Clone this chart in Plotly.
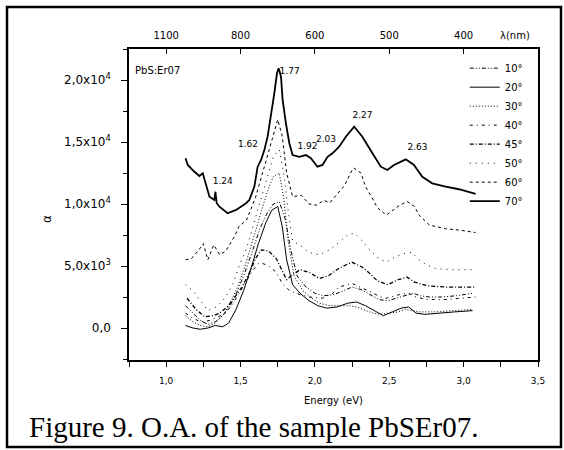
import plotly.graph_objects as go

# ---------------- data ----------------
energy_70 = [1.130, 1.145, 1.190, 1.223, 1.246, 1.291, 1.324, 1.331, 1.340, 1.358, 1.413, 1.470,
             1.537, 1.559, 1.593, 1.615, 1.638, 1.660, 1.682, 1.705, 1.727, 1.745, 1.756, 1.772,
             1.783, 1.805, 1.828, 1.850, 1.895, 1.940, 1.973, 2.017, 2.051, 2.085, 2.118, 2.163,
             2.208, 2.264, 2.319, 2.387, 2.443, 2.487, 2.532, 2.611, 2.666, 2.722, 2.789, 2.879,
             2.968, 3.081]
alpha_70 = [1.369, 1.315, 1.260, 1.226, 1.248, 1.059, 1.032, 1.099, 1.006, 0.978, 0.925, 0.952,
            1.006, 1.032, 1.140, 1.301, 1.355, 1.435, 1.543, 1.704, 1.893, 2.054, 2.094, 2.027,
            1.839, 1.651, 1.490, 1.395, 1.381, 1.395, 1.369, 1.301, 1.315, 1.381, 1.409, 1.462,
            1.543, 1.623, 1.543, 1.409, 1.301, 1.274, 1.315, 1.360, 1.315, 1.220, 1.167, 1.140,
            1.119, 1.081]

energy_60 = [1.13, 1.17, 1.22, 1.25, 1.28, 1.32, 1.36, 1.40, 1.46, 1.49, 1.54, 1.60, 1.66, 1.71,
             1.75, 1.78, 1.81, 1.85, 1.91, 1.96, 2.01, 2.06, 2.10, 2.15, 2.20, 2.24, 2.26, 2.31,
             2.34, 2.38, 2.42, 2.48, 2.57, 2.62, 2.67, 2.70, 2.77, 2.88, 2.97, 3.08]
alpha_60 = [0.55, 0.56, 0.63, 0.68, 0.55, 0.67, 0.59, 0.62, 0.74, 0.82, 0.87, 1.05, 1.30, 1.52,
            1.68, 1.55, 1.25, 1.06, 1.07, 1.00, 0.99, 1.03, 1.01, 1.08, 1.15, 1.25, 1.29, 1.25,
            1.14, 1.06, 0.97, 0.91, 0.99, 1.02, 0.98, 0.91, 0.83, 0.80, 0.79, 0.77]

energy_50 = [1.13, 1.18, 1.23, 1.28, 1.34, 1.40, 1.45, 1.49, 1.54, 1.58, 1.63, 1.68, 1.72, 1.76,
             1.79, 1.82, 1.85, 1.90, 1.96, 2.03, 2.10, 2.17, 2.23, 2.27, 2.32, 2.36, 2.42, 2.48,
             2.52, 2.59, 2.65, 2.70, 2.75, 2.81, 2.92, 3.08]
alpha_50 = [0.35, 0.30, 0.22, 0.14, 0.17, 0.25, 0.36, 0.50, 0.64, 0.80, 1.00, 1.22, 1.38, 1.44,
            1.25, 0.95, 0.70, 0.67, 0.61, 0.59, 0.63, 0.70, 0.76, 0.76, 0.70, 0.64, 0.57, 0.53,
            0.56, 0.60, 0.61, 0.55, 0.51, 0.48, 0.47, 0.47]

energy_45 = [1.14, 1.20, 1.26, 1.32, 1.36, 1.41, 1.45, 1.51, 1.57, 1.60, 1.64, 1.69, 1.74, 1.78,
             1.81, 1.85, 1.90, 1.96, 2.03, 2.09, 2.16, 2.21, 2.25, 2.32, 2.36, 2.42, 2.49, 2.56,
             2.62, 2.67, 2.76, 2.88, 3.08]
alpha_45 = [0.24, 0.15, 0.09, 0.10, 0.12, 0.17, 0.23, 0.33, 0.47, 0.56, 0.63, 0.62, 0.56, 0.47,
            0.39, 0.43, 0.47, 0.45, 0.40, 0.42, 0.48, 0.51, 0.53, 0.49, 0.45, 0.38, 0.35, 0.39,
            0.41, 0.37, 0.34, 0.33, 0.33]

energy_40 = [1.13, 1.18, 1.23, 1.29, 1.35, 1.40, 1.45, 1.50, 1.54, 1.58, 1.62, 1.65, 1.69, 1.74,
             1.78, 1.83, 1.90, 1.96, 2.05, 2.12, 2.16, 2.21, 2.25, 2.32, 2.38, 2.44, 2.48, 2.57,
             2.63, 2.68, 2.75, 2.88, 3.08]
alpha_40 = [0.12, 0.08, 0.05, 0.06, 0.09, 0.12, 0.20, 0.30, 0.38, 0.46, 0.52, 0.52, 0.50, 0.45,
            0.36, 0.30, 0.27, 0.25, 0.24, 0.28, 0.33, 0.35, 0.36, 0.32, 0.29, 0.25, 0.24, 0.27,
            0.28, 0.25, 0.23, 0.23, 0.25]

energy_30 = [1.13, 1.18, 1.23, 1.28, 1.33, 1.38, 1.43, 1.48, 1.53, 1.58, 1.63, 1.68, 1.72, 1.76,
             1.79, 1.82, 1.86, 1.92, 1.98, 2.03, 2.10, 2.17, 2.23, 2.28, 2.33, 2.39, 2.44, 2.50,
             2.56, 2.61, 2.66, 2.70, 2.80, 2.92, 3.06]
alpha_30 = [0.10, 0.05, 0.02, 0.01, 0.04, 0.10, 0.20, 0.33, 0.50, 0.70, 0.92, 1.10, 1.22, 1.25,
            1.05, 0.70, 0.42, 0.30, 0.24, 0.20, 0.18, 0.18, 0.18, 0.17, 0.15, 0.12, 0.11, 0.12,
            0.13, 0.15, 0.14, 0.13, 0.13, 0.14, 0.15]

energy_20 = [1.13, 1.18, 1.23, 1.28, 1.33, 1.38, 1.42, 1.47, 1.52, 1.57, 1.62, 1.67, 1.71, 1.75,
             1.78, 1.81, 1.85, 1.90, 1.96, 2.02, 2.08, 2.15, 2.22, 2.28, 2.34, 2.40, 2.46, 2.52,
             2.58, 2.63, 2.68, 2.74, 2.82, 2.94, 3.06]
alpha_20 = [0.02, 0.00, -0.01, 0.00, 0.02, 0.01, 0.04, 0.15, 0.30, 0.48, 0.68, 0.85, 0.95, 0.98,
            0.82, 0.55, 0.35, 0.28, 0.22, 0.18, 0.16, 0.17, 0.20, 0.21, 0.18, 0.14, 0.10, 0.13,
            0.16, 0.17, 0.12, 0.11, 0.12, 0.13, 0.14]

energy_10 = [1.13, 1.18, 1.23, 1.28, 1.33, 1.38, 1.43, 1.48, 1.53, 1.58, 1.63, 1.68, 1.72, 1.76,
             1.80, 1.84, 1.88, 1.94, 2.00, 2.06, 2.13, 2.19, 2.25, 2.31, 2.37, 2.43, 2.49, 2.55,
             2.61, 2.66, 2.71, 2.77, 2.85, 2.95, 3.06]
alpha_10 = [0.18, 0.12, 0.06, 0.03, 0.05, 0.10, 0.18, 0.30, 0.45, 0.62, 0.80, 0.93, 1.00, 1.02,
            0.88, 0.62, 0.42, 0.33, 0.28, 0.26, 0.27, 0.30, 0.33, 0.31, 0.27, 0.23, 0.22, 0.24,
            0.26, 0.28, 0.26, 0.25, 0.25, 0.26, 0.28]

series_names = ["10°", "20°", "30°", "40°", "45°", "50°", "60°", "70°"]
series_x = [energy_10, energy_20, energy_30, energy_40, energy_45, energy_50, energy_60, energy_70]
series_y = [alpha_10, alpha_20, alpha_30, alpha_40, alpha_45, alpha_50, alpha_60, alpha_70]

peak_labels = ["1.24", "1.62", "1.77", "1.92", "2.03", "2.27", "2.63"]
peak_label_x = [1.38, 1.55, 1.83, 1.95, 2.075, 2.32, 2.69]
peak_label_y = [1.18, 1.48, 2.07, 1.46, 1.52, 1.71, 1.45]

energy_tickvals = [1.0, 1.5, 2.0, 2.5, 3.0, 3.5]
energy_ticktext = ["1,0", "1,5", "2,0", "2,5", "3,0", "3,5"]
wavelength_tickvals = [1.0, 1.5, 2.0, 2.5, 3.0]
wavelength_ticktext = ["1100", "800", "600", "500", "400"]
alpha_ticks = [0.0, 0.5, 1.0, 1.5, 2.0]
alpha_ticktext = ["0,0", "5,0x10<sup>3</sup>", "1,0x10<sup>4</sup>", "1,5x10<sup>4</sup>", "2,0x10<sup>4</sup>"]

# ---------------- styles ----------------
dashes = ["4px,2px,1px,2px,1px,2px", "solid", "1px,2px", "3px,4px,1px,4px",
          "4px,2px,1px,2px", "1px,5px", "3px,3px", "solid"]
widths = [1, 1, 1, 1, 1.3, 1, 1, 1.8]

FONT = "DejaVu Sans"
fig = go.Figure()
for name, xs, ys, d, w in zip(series_names, series_x, series_y, dashes, widths):
    fig.add_trace(go.Scatter(x=xs, y=ys, mode="lines", name=name,
                             line=dict(color="black", width=w, dash=d)))

# invisible trace that carries the top (wavelength) axis
fig.add_trace(go.Scatter(x=energy_70, y=alpha_70, xaxis="x2", mode="lines",
                         line=dict(width=0, color="rgba(0,0,0,0)"), showlegend=False,
                         hoverinfo="skip"))

fig.add_trace(go.Scatter(x=peak_label_x, y=peak_label_y, mode="text", text=peak_labels,
                         textfont=dict(family=FONT, size=9, color="black"),
                         showlegend=False, hoverinfo="skip"))

L, R, T, B = 129, 538, 49, 360
W, H = 564, 450
pw, ph = R - L, B - T


def px(xp):
    return (xp - L) / pw


def py(yp):
    return (B - yp) / ph


fig.update_layout(
    width=W, height=H,
    margin=dict(l=L, r=W - R, t=T, b=H - B, pad=0),
    paper_bgcolor="white", plot_bgcolor="white",
    font=dict(family=FONT, size=10, color="black"),
    xaxis=dict(range=[0.75, 3.5], tickvals=energy_tickvals, ticktext=energy_ticktext,
               ticks="outside", ticklen=5, tickwidth=1, tickcolor="black",
               minor=dict(dtick=0.25, tick0=0.75, ticks="outside", ticklen=5, tickcolor="black"),
               showline=True, linecolor="black", linewidth=1.5, mirror=False,
               showgrid=False, zeroline=False, tickfont=dict(size=9), ticklabelstandoff=6),
    xaxis2=dict(range=[0.75, 3.5], overlaying="x", side="top", tickvals=wavelength_tickvals,
                ticktext=wavelength_ticktext, ticks="inside", ticklen=5, tickcolor="black",
                showline=True, linecolor="black", linewidth=1.5, showgrid=False,
                zeroline=False, tickfont=dict(size=10), ticklabelstandoff=4),
    yaxis=dict(range=[-0.258, 2.25], tickvals=alpha_ticks, ticktext=alpha_ticktext,
               ticks="outside", ticklen=6, tickcolor="black",
               minor=dict(dtick=0.25, tick0=0, ticks="outside", ticklen=4, tickcolor="black"),
               showline=True, linecolor="black", linewidth=1.5, mirror=True,
               showgrid=False, zeroline=False, tickfont=dict(size=12), ticklabelstandoff=8),
    legend=dict(x=0.975, y=0.985, xanchor="right", yanchor="top", bgcolor="rgba(0,0,0,0)",
                font=dict(family=FONT, size=10), tracegroupgap=0),
    showlegend=True,
)

fig.add_annotation(x=0.944, y=2.08, xref="x", yref="y", text="PbS:Er07", showarrow=False,
                   font=dict(family=FONT, size=10))
fig.add_annotation(x=px(515), y=py(35), xref="paper", yref="paper", text="λ(nm)",
                   xanchor="center", yanchor="middle", showarrow=False,
                   font=dict(family=FONT, size=10))
fig.add_annotation(x=px(47), y=py(219), xref="paper", yref="paper", text="α", textangle=-90,
                   xanchor="center", yanchor="middle", showarrow=False,
                   font=dict(family=FONT, size=12))
fig.add_annotation(x=0.5, y=py(400), xref="paper", yref="paper", text="Energy (eV)",
                   xanchor="center", yanchor="middle", showarrow=False,
                   font=dict(family=FONT, size=10))
fig.add_annotation(x=px(27), y=py(427), xref="paper", yref="paper", xanchor="left",
                   yanchor="middle", text="Figure 9. O.A. of the sample PbSEr07.",
                   showarrow=False,
                   font=dict(family="Liberation Serif", size=29, color="black"))
fig.add_shape(type="rect", xref="paper", yref="paper", x0=px(7), x1=px(561), y0=py(447),
              y1=py(7), line=dict(color="black", width=2.5), layer="above")

fig.write_html("out.html", config={"displayModeBar": False},
               post_script="document.body.style.margin='0';")
